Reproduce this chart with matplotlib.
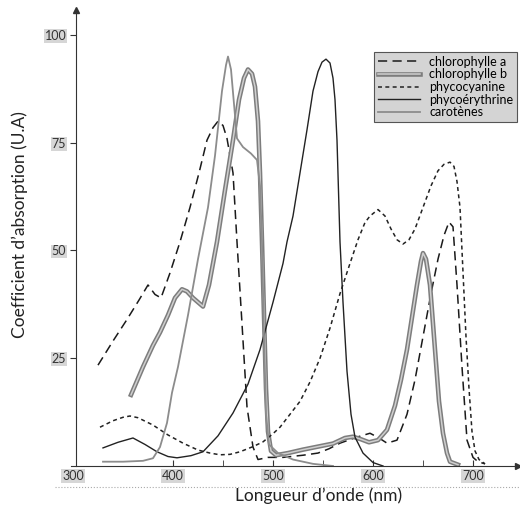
import matplotlib.pyplot as plt
import matplotlib.patheffects as pe
from matplotlib.lines import Line2D

plt.rcParams['font.family'] = ['Lato', 'DejaVu Sans']

# absorption spectra (nm, U.A)
chl_a_x = [325, 340, 354, 366, 375, 382, 388, 397, 407, 417, 426, 434, 440, 445, 450,
           454, 460, 464, 469, 474, 480, 485, 495, 510, 530, 545, 556, 567, 584, 597,
           606, 614, 624, 634, 642, 650, 658, 665, 671, 676, 680, 684, 689, 694, 700,
           705, 712]
chl_a_y = [23.4, 29, 34, 38.5, 42, 39.8, 39, 44.8, 52, 60, 68, 75.6, 78.5, 80, 79,
           76, 68, 52, 33, 13.7, 4.4, 1.5, 2, 2, 2.5, 3, 4, 5.3, 6.7, 7.6,
           6.5, 5.3, 6, 12, 20, 30, 40, 48, 53.5, 56.6, 55.5, 42, 23, 6, 2,
           1, 0.5]

chl_b_x = [358, 370, 380, 387, 395, 402, 409, 414, 420, 425, 430, 436, 444, 452, 460,
           466, 471, 475, 479, 482, 485, 487, 489, 491, 493, 495, 498, 503, 515, 530,
           545, 560, 572, 580, 588, 596, 605, 614, 622, 628, 634, 640, 644, 648, 650,
           653, 657, 662, 666, 670, 674, 677, 685]
chl_b_y = [16.5, 23, 28, 31, 35, 39, 41, 40.5, 39, 38, 37, 42, 52, 64, 75.6,
           85, 90, 92, 91, 88, 80, 68, 52, 35, 18, 8, 3.5, 2.5, 3, 3.8,
           4.5, 5.2, 6.5, 6.8, 6.2, 5.5, 6, 8.4, 14, 20, 27, 36, 42, 47.5, 49.4,
           48, 42, 27, 15, 7.6, 3, 1, 0.3]

phycocyanin_x = [327, 340, 350, 357, 365, 380, 395, 410, 425, 437, 447, 457, 467, 480, 490,
                 500, 507, 517, 527, 537, 547, 557, 567, 577, 585, 592, 597, 605, 612, 618,
                 624, 630, 636, 642, 650, 658, 665, 671, 677, 681, 684, 687, 689, 691, 693,
                 696, 699, 702, 706, 712]
phycocyanin_y = [9, 10.5, 11.3, 11.6, 11.2, 9.5, 7.2, 5.3, 3.7, 3, 2.6, 2.7, 3.3, 4.5, 5.6,
                 7.5, 9, 12, 15, 19.5, 25, 32, 40, 47, 52.5, 56.5, 58, 59.5, 58, 55,
                 52.5, 51.5, 52.5, 55, 60, 65, 68.5, 70, 70.5, 69.5, 66, 60, 50, 40, 30,
                 18, 8, 3.5, 1.5, 0.5]

phycoerythrin_x = [330, 345, 360, 372, 384, 395, 404, 418, 430, 445, 460, 475, 487, 500, 510,
                   514, 520, 527, 534, 540, 545, 549, 553, 557, 560, 562, 564, 567, 570, 574,
                   578, 582, 590, 600, 610]
phycoerythrin_y = [4.2, 5.5, 6.5, 5, 3.3, 2.2, 1.9, 2.4, 3.3, 7, 12.3, 19, 27, 38, 47,
                   52, 58, 68, 78, 87, 91.5, 93.7, 94.4, 93.5, 90, 85, 75.6, 52, 38, 22,
                   12, 6.7, 3, 0.8, 0]

carotene_x = [330, 350, 370, 380, 387, 394, 399, 405, 415, 425, 435, 442, 449, 453, 455,
              458, 461, 464, 470, 478, 484, 487, 489, 491, 493, 496, 505, 520, 540, 560]
carotene_y = [1, 1, 1.2, 1.8, 4.4, 10, 17, 23, 35, 48, 60, 72, 87, 93, 95,
              92, 84, 76, 74, 72.5, 71, 65, 52, 30, 12, 5, 3, 1.5, 0.5, 0]

x_ticks = [300, 400, 500, 600, 700]
x_minor = [450, 550, 650]
y_ticks = [25, 50, 75, 100]

fig = plt.figure(figsize=(5.2, 5.13), dpi=100)
ax = fig.add_axes([71 / 520, 47 / 513, 447 / 520, 456 / 513])

ax.plot(chl_a_x, chl_a_y, color='#1a1a1a', lw=1.1, dashes=(6, 3.5), label='chlorophylle a')
ax.plot(chl_b_x, chl_b_y, color='#cfcfcf', lw=1.1, label='chlorophylle b',
        path_effects=[pe.Stroke(linewidth=3.3, foreground='#7d7d7d'), pe.Normal()])
ax.plot(phycocyanin_x, phycocyanin_y, color='#222222', lw=1.1, dashes=(2.6, 2.2),
        label='phycocyanine')
ax.plot(phycoerythrin_x, phycoerythrin_y, color='#222222', lw=1.0, label='phycoérythrine')
ax.plot(carotene_x, carotene_y, color='#8c8c8c', lw=1.3, label='carotènes')

ax.set_xlim(298, 745)
ax.set_ylim(0, 105.8)
ax.spines['top'].set_visible(False)
ax.spines['right'].set_visible(False)
ax.spines['left'].set_position(('data', 303))
for s in ['left', 'bottom']:
    ax.spines[s].set_color('#333333')
    ax.spines[s].set_linewidth(0.8)

ax.set_xticks(x_ticks)
ax.set_xticklabels([str(t) for t in x_ticks])
ax.set_xticks(x_minor, minor=True)
ax.tick_params(axis='x', which='both', direction='in', length=4, color='#333333',
               labelsize=9, labelcolor='#333333', pad=3)
ax.xaxis.get_major_ticks()[0].tick1line.set_visible(False)
ax.set_yticks(y_ticks)
ax.set_yticklabels([str(t) for t in y_ticks])
ax.tick_params(axis='y', direction='out', length=4, color='#333333',
               labelsize=9, labelcolor='#333333', pad=3)
for lab in ax.get_xticklabels() + ax.get_yticklabels():
    lab.set_bbox(dict(facecolor='#d6d6d6', edgecolor='none', pad=0.6))

# axis arrows
ax.plot(1, 0, marker='>', color='#333333', ms=4, transform=ax.transAxes, clip_on=False)
ax.plot(303, 1, marker='^', color='#333333', ms=4, transform=ax.get_xaxis_transform(),
        clip_on=False)

fig.add_artist(Line2D([55 / 520, 1], [1 - 487 / 513] * 2, transform=fig.transFigure,
                      color='#aaaaaa', lw=0.8, ls=':'))

fig.text(319 / 520, 1 - 496 / 513, 'Longueur d’onde (nm)', ha='center', va='center',
         fontsize=12.5, color='#222222')
fig.text(20 / 520, 1 - 225 / 513, 'Coefficient d’absorption (U.A)', ha='center', va='center',
         rotation=90, fontsize=12.5, color='#222222')

leg = ax.legend(loc='upper right', bbox_to_anchor=(517 / 520, 1 - 52 / 513),
                bbox_transform=fig.transFigure, borderaxespad=0, fontsize=9,
                handlelength=3.4, handletextpad=0.7, labelspacing=0.05, borderpad=0.3,
                fancybox=False, framealpha=1)
leg.get_frame().set_facecolor('#d4d4d4')
leg.get_frame().set_edgecolor('#555555')
leg.get_frame().set_linewidth(0.8)

fig.savefig('out.png', dpi=100)
